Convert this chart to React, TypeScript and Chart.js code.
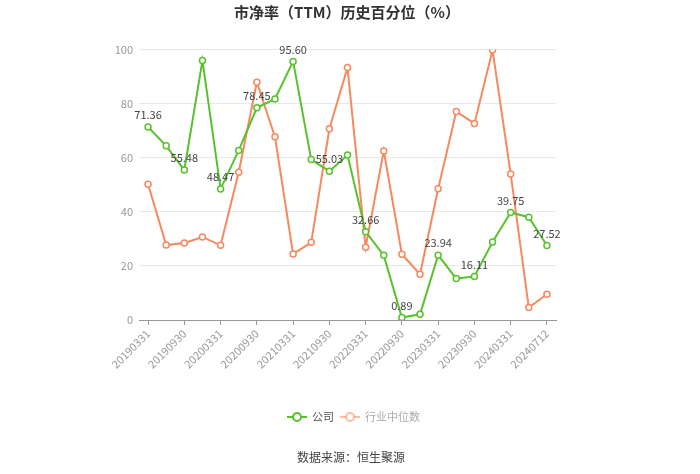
import React, { useEffect, useRef } from 'react';
import { Chart, registerables } from 'chart.js';
Chart.register(...registerables);

const titleText = '市净率（TTM）历史百分位（%）';
const sourceText = '数据来源：恒生聚源';
const seriesNames = ['公司', '行业中位数'];
const categories = [
  '20190331', '20190630', '20190930', '20191231', '20200331', '20200630', '20200930', '20201231',
  '20210331', '20210630', '20210930', '20211231', '20220331', '20220630', '20220930', '20221231',
  '20230331', '20230630', '20230930', '20231231', '20240331', '20240630', '20240712',
];
const companyValues = [
  71.36, 64.4, 55.48, 95.9, 48.47, 62.7, 78.45, 81.7, 95.6, 59.3, 55.03, 61.0,
  32.66, 23.9, 0.89, 2.1, 23.94, 15.3, 16.11, 28.8, 39.75, 38.0, 27.52,
];
const industryValues = [
  50.2, 27.7, 28.5, 30.7, 27.6, 54.6, 87.9, 67.7, 24.4, 28.7, 70.7, 93.3,
  26.9, 62.5, 24.3, 16.9, 48.5, 77.1, 72.6, 99.8, 54.0, 4.6, 9.5,
];
const yMin = 0;
const yMax = 100;
const yStep = 20;

const GREEN = '#58c22c';
const ORANGE = '#f6895f';
const FONT = '"Noto Sans CJK SC", "Microsoft YaHei", sans-serif';

const decorPlugin = {
  id: 'decor',
  afterDatasetsDraw(chart: any) {
    const ctx = chart.ctx;
    const meta = chart.getDatasetMeta(0);
    ctx.save();
    ctx.font = `11px ${FONT}`;
    ctx.fillStyle = '#444';
    ctx.textAlign = 'center';
    ctx.textBaseline = 'middle';
    meta.data.forEach((pt: any, i: number) => {
      if (i % 2 !== 0) return;
      const v = companyValues[i];
      ctx.fillText(v.toFixed(2), pt.x, pt.y - 12);
    });
    ctx.restore();
  },
  afterDraw(chart: any) {
    const ctx = chart.ctx;
    ctx.save();
    // title
    ctx.font = `bold 15px ${FONT}`;
    ctx.fillStyle = '#333';
    ctx.textAlign = 'center';
    ctx.textBaseline = 'middle';
    ctx.fillText(titleText, 347, 12);
    // legend
    const ly = 417;
    const items = [
      { x: 287, color: GREEN, text: seriesNames[0], textColor: '#555' },
      { x: 340, color: 'rgba(246,137,95,0.55)', text: seriesNames[1], textColor: '#aaa' },
    ];
    ctx.font = `11px ${FONT}`;
    ctx.textAlign = 'left';
    items.forEach((it) => {
      ctx.strokeStyle = it.color;
      ctx.lineWidth = 2;
      ctx.beginPath();
      ctx.moveTo(it.x, ly);
      ctx.lineTo(it.x + 20, ly);
      ctx.stroke();
      ctx.beginPath();
      ctx.arc(it.x + 10, ly, 4, 0, Math.PI * 2);
      ctx.fillStyle = '#fff';
      ctx.fill();
      ctx.stroke();
      ctx.fillStyle = it.textColor;
      ctx.fillText(it.text, it.x + 25, ly);
    });
    // source
    ctx.font = `12px ${FONT}`;
    ctx.fillStyle = '#444';
    ctx.textAlign = 'center';
    ctx.fillText(sourceText, 351, 457);
    ctx.restore();
  },
};

export default function App() {
  const ref = useRef<HTMLCanvasElement>(null);
  useEffect(() => {
    document.body.style.margin = '0';
    const canvas = ref.current!;
    const chart = new Chart(canvas, {
      type: 'line',
      data: {
        labels: categories,
        datasets: [
          {
            label: seriesNames[0],
            data: companyValues,
            borderColor: GREEN,
            backgroundColor: '#fff',
            borderWidth: 2,
            pointRadius: 3,
            pointBorderWidth: 1.5,
            pointBackgroundColor: '#fff',
            pointBorderColor: GREEN,
            tension: 0,
          },
          {
            label: seriesNames[1],
            data: industryValues,
            borderColor: ORANGE,
            backgroundColor: '#fff',
            borderWidth: 2,
            pointRadius: 3,
            pointBorderWidth: 1.5,
            pointBackgroundColor: '#fff',
            pointBorderColor: ORANGE,
            tension: 0,
          },
        ],
      },
      options: {
        responsive: false,
        animation: false,
        devicePixelRatio: 1,
        layout: { padding: { left: 99, right: 144, top: 49.5, bottom: 94 } },
        plugins: {
          legend: { display: false },
          title: { display: false },
          tooltip: { enabled: false },
        },
        scales: {
          x: {
            offset: true,
            afterFit: (s: any) => { s.height = 60; },
            border: { display: true, color: '#999', width: 1 },
            grid: {
              display: true,
              drawOnChartArea: false,
              drawTicks: true,
              tickLength: 5,
              color: (c: any) => (c.index % 2 === 0 ? '#999' : 'rgba(0,0,0,0)'),
            },
            ticks: {
              autoSkip: false,
              maxRotation: 45,
              minRotation: 45,
              padding: 2,
              color: '#999',
              font: { size: 11, family: FONT },
              callback: (_v: any, i: number) => (i % 2 === 0 ? categories[i] : ''),
            },
          },
          y: {
            min: yMin,
            max: yMax,
            afterFit: (s: any) => { s.width = 40; },
            border: { display: false },
            grid: { color: '#e8e8e8', drawTicks: false },
            ticks: {
              stepSize: yStep,
              padding: 6,
              color: '#999',
              font: { size: 11, family: FONT },
            },
          },
        },
      },
      plugins: [decorPlugin],
    });
    return () => chart.destroy();
  }, []);
  return (
    <div style={{ width: 700, height: 474 }}>
      <canvas ref={ref} width={700} height={474} />
    </div>
  );
}
